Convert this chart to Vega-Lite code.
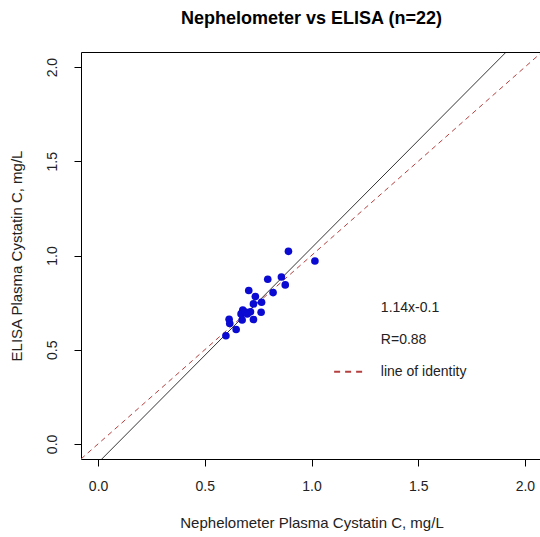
{
  "$schema": "https://vega.github.io/schema/vega-lite/v6.json",
  "autosize": {"type": "none"},
  "width": 461,
  "height": 407,
  "padding": {"left": 81, "top": 52, "right": 0, "bottom": 78},
  "background": "white",
  "config": {
    "font": "Liberation Sans",
    "view": {"stroke": "black", "strokeWidth": 1},
    "axis": {"grid": false, "domain": false, "tickColor": "black", "tickSize": 7, "labelFontSize": 14, "labelColor": "#222", "titleFontSize": 15, "titleFontWeight": "normal", "titleColor": "#222", "labelFont": "Liberation Sans", "titleFont": "Liberation Sans"}
  },
  "title": {"text": "Nephelometer vs ELISA (n=22)", "fontSize": 18, "fontWeight": "bold", "font": "Liberation Sans", "color": "black", "anchor": "middle", "offset": 24},
  "datasets": {
    "pts": [
      {"neph": 0.892, "elisa": 1.022},
      {"neph": 1.016, "elisa": 0.971},
      {"neph": 0.795, "elisa": 0.874},
      {"neph": 0.859, "elisa": 0.886},
      {"neph": 0.877, "elisa": 0.844},
      {"neph": 0.706, "elisa": 0.814},
      {"neph": 0.820, "elisa": 0.803},
      {"neph": 0.737, "elisa": 0.782},
      {"neph": 0.728, "elisa": 0.743},
      {"neph": 0.766, "elisa": 0.752},
      {"neph": 0.764, "elisa": 0.699},
      {"neph": 0.678, "elisa": 0.710},
      {"neph": 0.670, "elisa": 0.690},
      {"neph": 0.714, "elisa": 0.701},
      {"neph": 0.699, "elisa": 0.690},
      {"neph": 0.728, "elisa": 0.660},
      {"neph": 0.675, "elisa": 0.658},
      {"neph": 0.614, "elisa": 0.662},
      {"neph": 0.617, "elisa": 0.639},
      {"neph": 0.647, "elisa": 0.607},
      {"neph": 0.599, "elisa": 0.574},
      {"neph": 0.690, "elisa": 0.700}
    ],
    "reg": [
      {"x": -0.08, "y": -0.1912},
      {"x": 2.08, "y": 2.2712}
    ],
    "ident": [
      {"x": -0.08, "y": -0.08},
      {"x": 2.08, "y": 2.08}
    ],
    "legendline": [
      {"x": 1.106, "y": 0.383},
      {"x": 1.238, "y": 0.383}
    ],
    "legendtext": [
      {"x": 1.325, "y": 0.722, "label": "1.14x-0.1"},
      {"x": 1.325, "y": 0.553, "label": "R=0.88"},
      {"x": 1.325, "y": 0.383, "label": "line of identity"}
    ]
  },
  "layer": [
    {
      "data": {"name": "ident"},
      "mark": {"type": "line", "clip": true, "color": "#b5403f", "strokeWidth": 1, "strokeDash": [5, 4]},
      "encoding": {
        "x": {"field": "x", "type": "quantitative", "scale": {"domain": [-0.08, 2.08], "nice": false, "zero": false}, "axis": {"values": [0, 0.5, 1, 1.5, 2], "format": ".1f", "labelPadding": 13, "titlePadding": 22, "title": "Nephelometer Plasma Cystatin C, mg/L"}},
        "y": {"field": "y", "type": "quantitative", "scale": {"domain": [-0.08, 2.08], "nice": false, "zero": false}, "axis": {"values": [0, 0.5, 1, 1.5, 2], "format": ".1f", "labelAngle": -90, "labelAlign": "center", "labelBaseline": "bottom", "labelPadding": 15, "titlePadding": 21, "title": "ELISA Plasma Cystatin C, mg/L"}}
      }
    },
    {
      "data": {"name": "reg"},
      "mark": {"type": "line", "clip": true, "color": "black", "strokeWidth": 0.8},
      "encoding": {
        "x": {"field": "x", "type": "quantitative"},
        "y": {"field": "y", "type": "quantitative"}
      }
    },
    {
      "data": {"name": "pts"},
      "mark": {"type": "circle", "size": 58, "color": "#0a0ad2", "opacity": 1},
      "encoding": {
        "x": {"field": "neph", "type": "quantitative"},
        "y": {"field": "elisa", "type": "quantitative"}
      }
    },
    {
      "data": {"name": "legendline"},
      "mark": {"type": "line", "color": "#b5403f", "strokeWidth": 2, "strokeDash": [6, 5]},
      "encoding": {
        "x": {"field": "x", "type": "quantitative"},
        "y": {"field": "y", "type": "quantitative"}
      }
    },
    {
      "data": {"name": "legendtext"},
      "mark": {"type": "text", "align": "left", "baseline": "middle", "fontSize": 14, "color": "#222", "font": "Liberation Sans"},
      "encoding": {
        "x": {"field": "x", "type": "quantitative"},
        "y": {"field": "y", "type": "quantitative"},
        "text": {"field": "label"}
      }
    }
  ]
}
